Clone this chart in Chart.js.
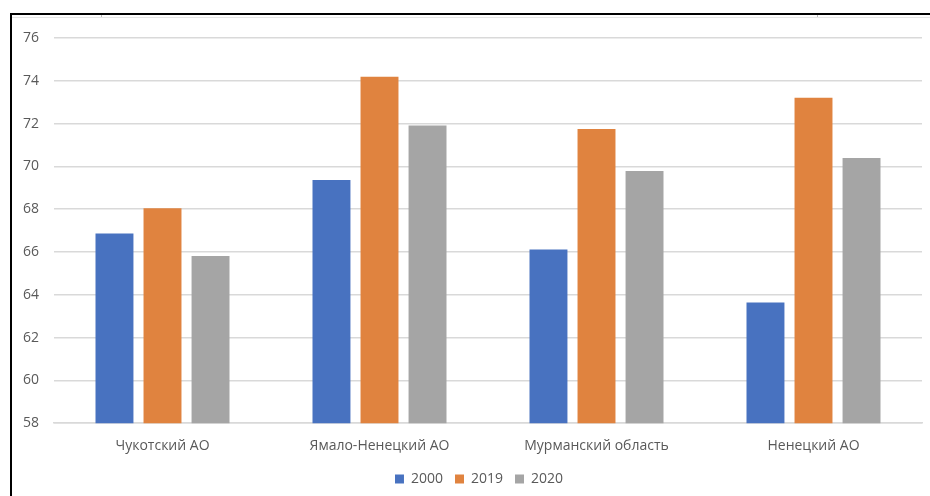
<!DOCTYPE html>
<html>
<head>
<meta charset="utf-8">
<script src="https://cdn.jsdelivr.net/npm/chart.js@4.4.0/dist/chart.umd.min.js"></script>
<style>
    html, body { margin: 0; padding: 0; background: #fff; }
    #wrap { position: relative; width: 930px; height: 496px; overflow: hidden; }
    #frame { position: absolute; left: 10px; top: 13px; width: 940px; height: 500px;
             border-top: 2px solid #000; border-left: 2px solid #000; }
    #frame-inner { position: absolute; left: 12px; top: 17px; width: 930px; height: 1px; background: #e6e6e6; }
    .mark { position: absolute; top: 15px; width: 1px; height: 2px; background: #bbb; }
    canvas { position: absolute; left: 0; top: 0; }
</style>
</head>
<body>
<div id="wrap">
    <canvas id="lifeChart" width="930" height="496"></canvas>
    <div id="frame"></div>
    <div id="frame-inner"></div>
    <div class="mark" style="left:101px"></div>
    <div class="mark" style="left:817px"></div>
</div>
<script>
const regions = ['Чукотский АО', 'Ямало-Ненецкий АО', 'Мурманский область', 'Ненецкий АО'];
const values2000 = [66.87, 69.36, 66.12, 63.64];
const values2019 = [68.05, 74.19, 71.75, 73.21];
const values2020 = [65.81, 71.91, 69.79, 70.39];

const textColor = '#595959';
const fontFamily = '"Open Sans", "Noto Sans", sans-serif';

// legend sits centred under the plot area, not the whole canvas
const legendShift = {
    id: 'legendShift',
    afterLayout(chart) {
        chart.legend.left += 18;
        chart.legend.right += 18;
    }
};

const lifeChart = new Chart(document.getElementById('lifeChart'), {
    type: 'bar',
    data: {
        labels: regions,
        datasets: [
            { label: '2000', data: values2000, backgroundColor: '#4872C0' },
            { label: '2019', data: values2019, backgroundColor: '#E0833F' },
            { label: '2020', data: values2020, backgroundColor: '#A5A5A5' }
        ]
    },
    plugins: [legendShift],
    options: {
        responsive: false,
        animation: false,
        categoryPercentage: 0.664,
        barPercentage: 0.79,
        layout: {
            padding: { top: 38, right: 8, bottom: 0, left: 0 }
        },
        plugins: {
            tooltip: { enabled: false },
            legend: {
                position: 'bottom',
                labels: {
                    boxWidth: 9,
                    boxHeight: 9,
                    padding: 12,
                    color: textColor,
                    font: { family: fontFamily, size: 14 }
                }
            }
        },
        scales: {
            x: {
                grid: { display: false },
                border: { color: '#d9d9d9', width: 1.5 },
                ticks: {
                    color: textColor,
                    padding: 6,
                    font: { family: fontFamily, size: 14 }
                }
            },
            y: {
                min: 58,
                max: 76,
                afterFit: (scale) => { scale.width = 54; },
                border: { display: false },
                grid: { color: '#d9d9d9', lineWidth: 1.5, drawTicks: false },
                ticks: {
                    stepSize: 2,
                    padding: 15,
                    color: textColor,
                    font: { family: fontFamily, size: 14 }
                }
            }
        }
    }
});
</script>
</body>
</html>
